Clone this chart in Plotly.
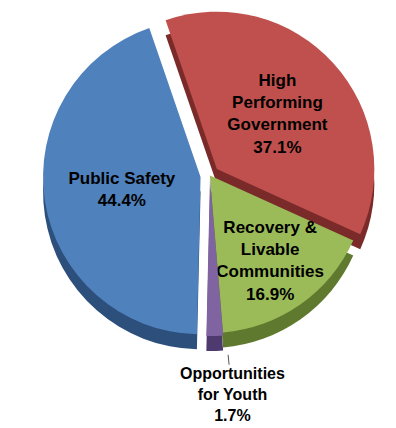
import plotly.graph_objects as go

categories = ["High Performing Government", "Recovery & Livable Communities",
              "Opportunities for Youth", "Public Safety"]
wrapped = ["High<br>Performing<br>Government", "Recovery &<br>Livable<br>Communities",
           "Opportunities<br>for Youth", "Public Safety"]
values = [37.1, 16.9, 1.7, 44.4]
colors = ["#C0504D", "#9BBB59", "#8064A2", "#4F81BD"]
dark_colors = ["#7A2B29", "#5F7A2E", "#4E3A6E", "#2C4F7C"]
pulls = [0.06, 0.0, 0.02, 0.06]

dom_x = [0.105, 0.955]
dom_y = [0.2, 0.98]
depth = 0.035
rot = -19

fig = go.Figure()
fig.add_trace(go.Pie(
    labels=categories, values=values, sort=False, direction="clockwise", rotation=rot,
    pull=pulls, marker=dict(colors=dark_colors, line=dict(width=0)),
    textinfo="none", hoverinfo="skip", showlegend=False,
    domain=dict(x=dom_x, y=[dom_y[0] - depth, dom_y[1] - depth]),
))
fig.add_trace(go.Pie(
    labels=categories, values=values, text=wrapped, sort=False, direction="clockwise",
    rotation=rot, pull=pulls, marker=dict(colors=colors, line=dict(width=0)),
    texttemplate=["<b>%{text}<br>%{percent:.1%}</b>", "<b>%{text}<br>%{percent:.1%}</b>",
                  "", "<b>%{text}<br>%{percent:.1%}</b>"],
    textposition=["inside", "inside", "none", "inside"],
    insidetextorientation="horizontal",
    textfont=dict(family="Liberation Sans, Arial", size=17, color="black"),
    showlegend=False,
    domain=dict(x=dom_x, y=dom_y),
))

total = sum(values)
i = 2
fig.add_annotation(
    text="<b>%s<br>%.1f%%</b>" % (wrapped[i], values[i] / total * 100),
    xref="paper", yref="paper", x=0.576, y=0.171, ax=4, ay=40,
    showarrow=True, arrowhead=0, arrowwidth=1, arrowcolor="#555555",
    borderpad=0,
    font=dict(family="Liberation Sans, Arial", size=16, color="black"),
)
fig.update_layout(
    width=396, height=428, margin=dict(l=0, r=0, t=0, b=0),
    paper_bgcolor="white", plot_bgcolor="white", uniformtext=dict(minsize=17, mode="show"),
)
fig.write_html("out.html")
